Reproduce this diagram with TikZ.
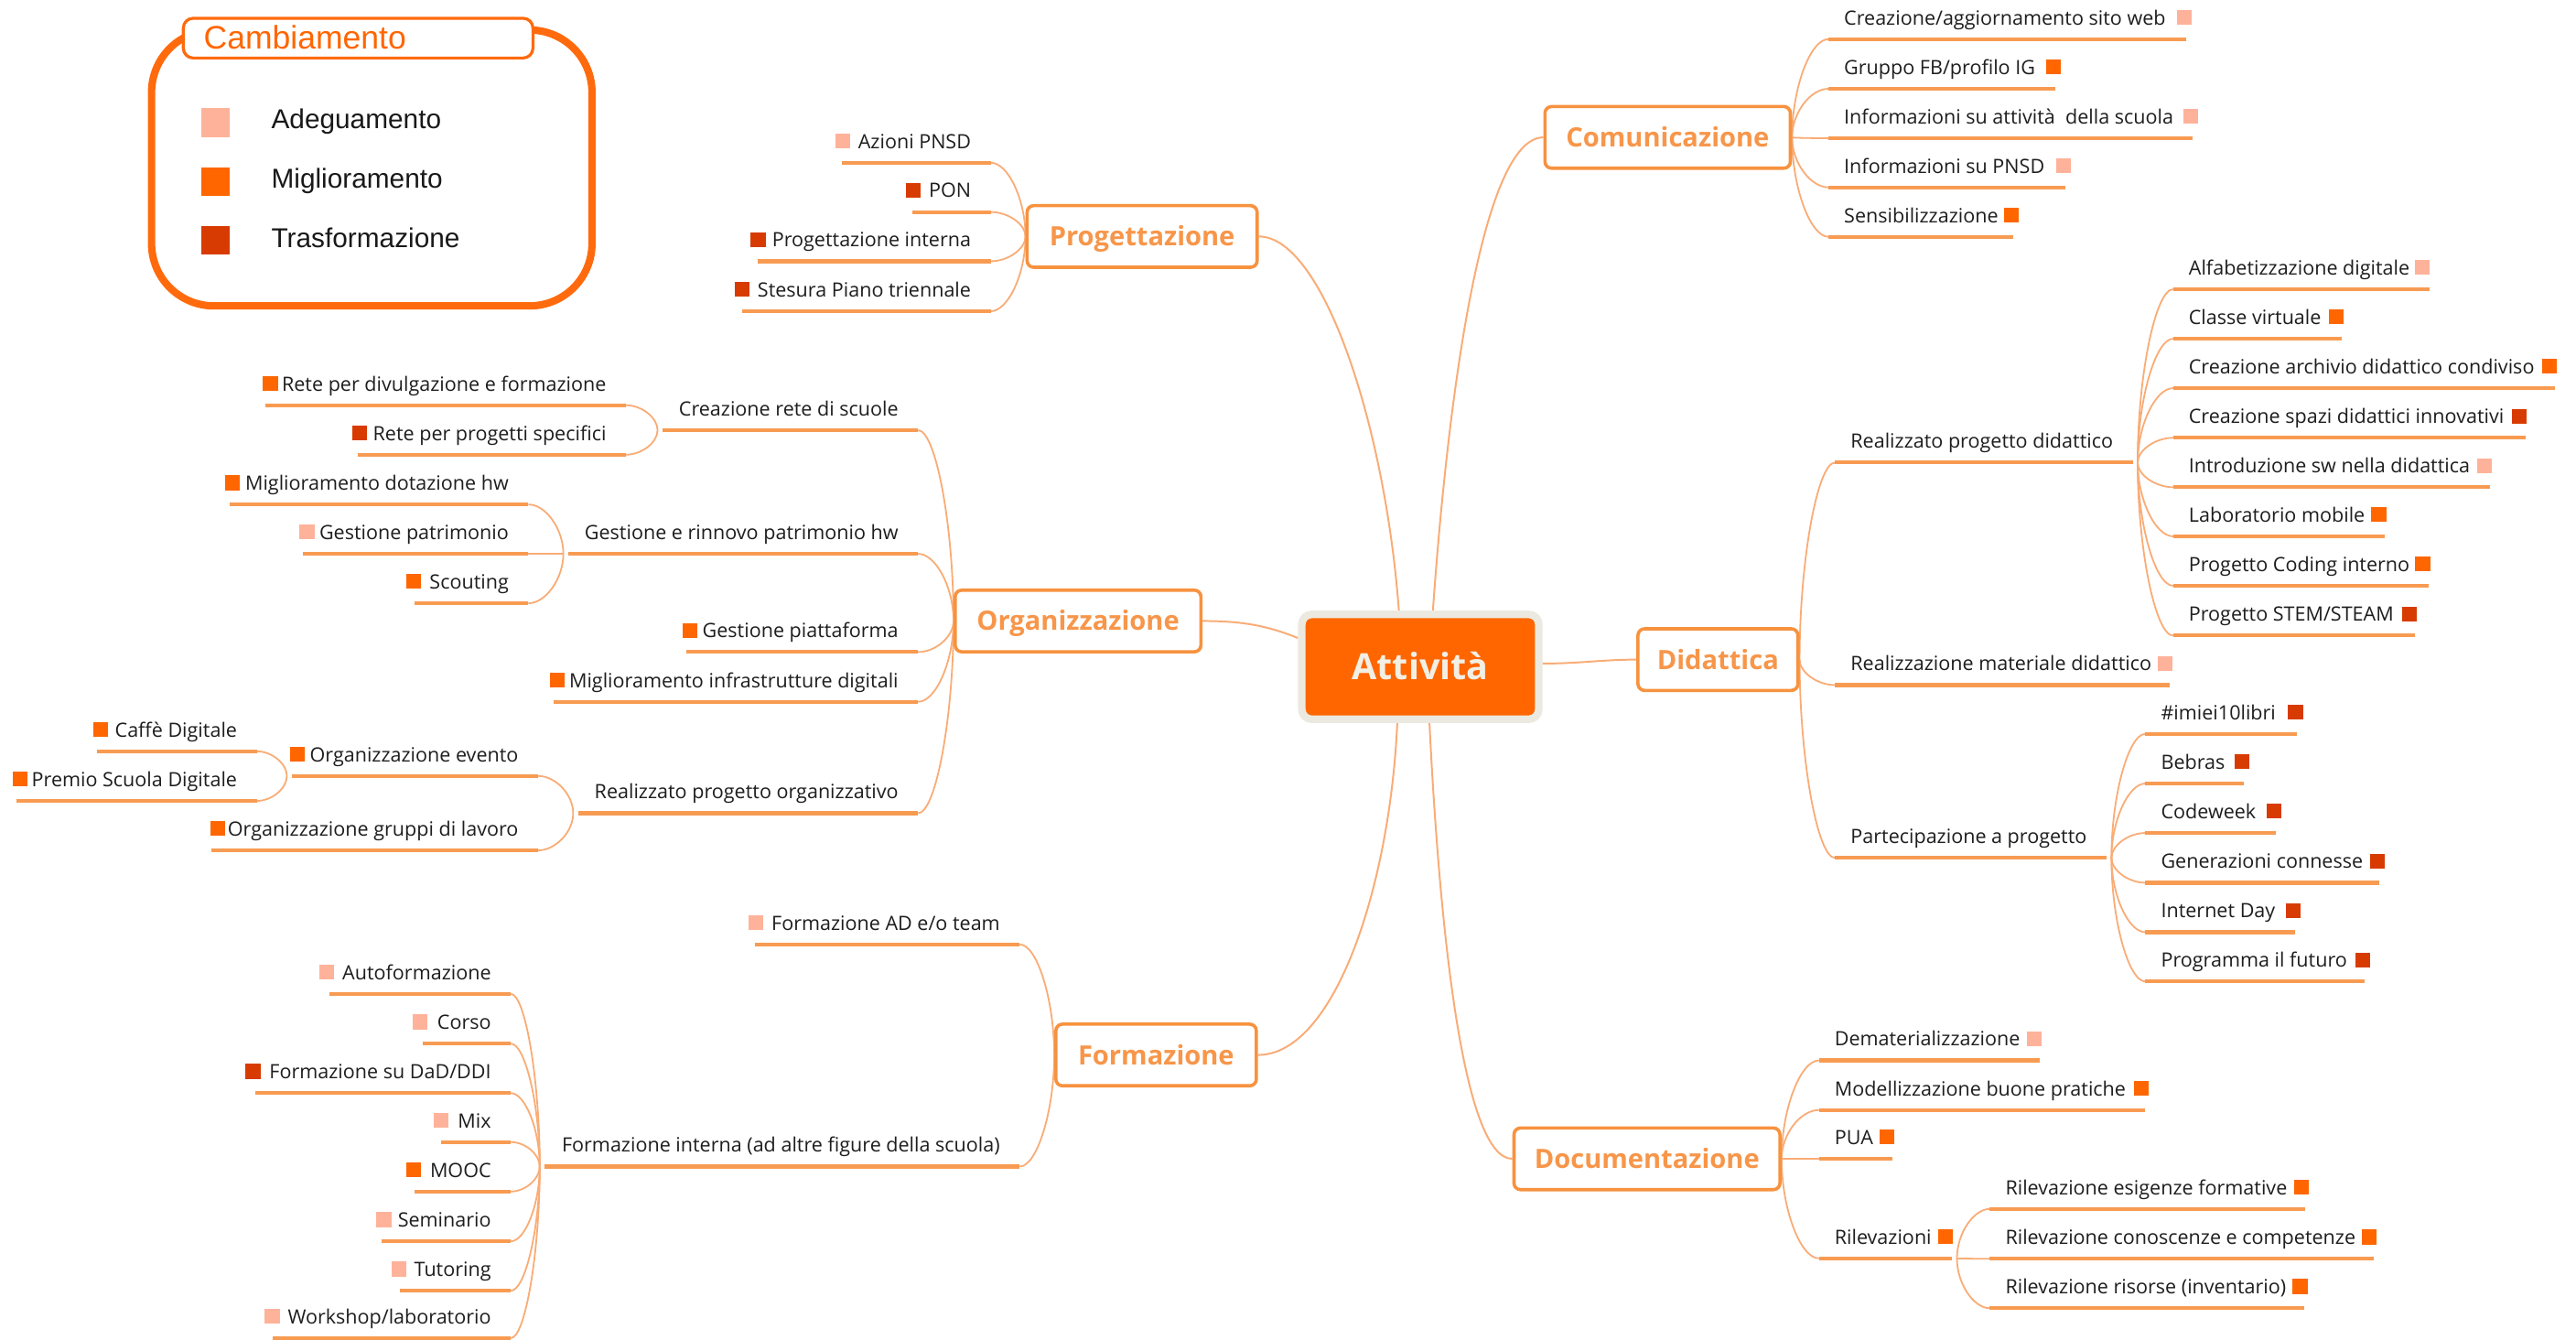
\documentclass[tikz,border=0pt]{standalone}
\usepackage{fontspec}
\setmainfont{Open Sans}
\newfontfamily\legfont{Liberation Sans}
\usetikzlibrary{calc}
\definecolor{cA}{HTML}{FFB29A}
\definecolor{cB}{HTML}{FF6600}
\definecolor{cC}{HTML}{D83B01}
\definecolor{boxc}{HTML}{F7923F}
\definecolor{boxt}{HTML}{F7964A}
\definecolor{ulc}{HTML}{F89B52}
\definecolor{connc}{HTML}{F9AC76}
\definecolor{beige}{HTML}{ECEAE0}
\definecolor{cream}{HTML}{F2EFE4}
\definecolor{legor}{HTML}{FF6A0D}
\definecolor{leaftxt}{HTML}{1E1E1E}
\pgfdeclarelayer{bg}
\pgfsetlayers{bg,main}
\newcommand\sqA{\textcolor{cA}{\rule{9pt}{9pt}}}
\newcommand\sqB{\textcolor{cB}{\rule{9pt}{9pt}}}
\newcommand\sqC{\textcolor{cC}{\rule{9pt}{9pt}}}
% left leaf: name, x of right underline end, y of underline, far-side offset, content
\newcommand\leafL[5]{%
  \node[leaf, anchor=base east] (#1) at ({#2-12},{#3-8.7}) {#5};
  \coordinate (#1-r) at (#2,#3);
  \coordinate (#1-l) at ($(#1.west |- #1-r)+(#4,0)$);
  \draw[uline] (#1-l) -- (#1-r);
}
% right leaf: name, x of left underline end, y of underline, far-side offset, content
\newcommand\leafR[5]{%
  \node[leaf, anchor=base west] (#1) at ({#2+9.5},{#3-8.7}) {#5};
  \coordinate (#1-l) at (#2,#3);
  \coordinate (#1-r) at ($(#1.east |- #1-l)+(#4,0)$);
  \draw[uline] (#1-l) -- (#1-r);
}
\newcommand\linkc[2]{\draw[conn] (#1) .. controls ($(#1)!0.5!(#1|-#2)$) and ($(#2)!0.5!(#2-|#1)$) .. (#2);}
\tikzset{
  leaf/.style={inner sep=0pt, outer sep=0pt, font=\fontsize{12}{14}\selectfont, text=leaftxt},
  uline/.style={draw=ulc, line width=2.3pt},
  conn/.style={draw=connc, line width=1pt},
  mconn/.style={draw=connc, line width=1.1pt},
  mainbox/.style={draw=boxc, line width=2pt, fill=white, rounded corners=4pt, text=boxt,
    font=\fontsize{16.2}{18}\selectfont\bfseries, text height=11.6pt, text depth=0pt,
    inner xsep=2pt, inner ysep=0pt, minimum height=37.5pt},
  rootbox/.style={draw=beige, line width=4.6pt, fill=cB, rounded corners=6pt, text=cream,
    font=\fontsize{22}{24}\selectfont\bfseries, text height=15.7pt, text depth=0pt,
    inner sep=0pt, minimum width=144.2pt, minimum height=63.8pt},
  legsq/.style={inner sep=0pt, minimum size=17.7pt},
  legtxt/.style={anchor=base west, inner sep=0pt, font=\legfont\fontsize{16.6}{19}\selectfont, text=black!90}
}
\begin{document}
\begin{tikzpicture}[x=1pt,y=-1pt]
\useasboundingbox (0,0) rectangle (1568,815);
\begin{pgfonlayer}{bg}
\fill[white] (0,0) rectangle (1568,815);
\end{pgfonlayer}

% ---------- legend ----------
\node[draw=legor, line width=4.5pt, rounded corners=38pt, minimum width=268.1pt, minimum height=167.9pt, inner sep=0pt] (legbox) at (226.3,102.2) {};
\node[draw=legor, line width=1.8pt, fill=white, rounded corners=6pt, minimum width=212.8pt, minimum height=24.2pt, inner sep=0pt] (legtitlebox) at (218,23.2) {};
\node[anchor=base west, inner sep=0pt, font=\legfont\fontsize{19.8}{22}\selectfont, text=cB] (legtitle) at (123.8,29.7) {Cambiamento};
\node[legsq, fill=cA] (legsqA) at (131.15,74.75) {};
\node[legsq, fill=cB] (legsqB) at (131.15,110.5) {};
\node[legsq, fill=cC] (legsqC) at (131.15,146.2) {};
\node[legtxt] (legA) at (165,78) {Adeguamento};
\node[legtxt] (legB) at (165,114.2) {Miglioramento};
\node[legtxt] (legC) at (165,150.4) {Trasformazione};

% ---------- root and main topics ----------
\node[rootbox] (root) at (864.5,405.8) {Attività};
\node[mainbox, minimum width=140pt] (prog) at (695.2,143.9) {Progettazione};
\node[mainbox, minimum width=149.4pt] (comu) at (1015.1,83.6) {Comunicazione};
\node[mainbox, minimum width=149.6pt] (org) at (656.2,377.9) {Organizzazione};
\node[mainbox, minimum width=97.4pt] (did) at (1045.7,401.4) {Didattica};
\node[mainbox, minimum width=122pt] (form) at (703.7,642) {Formazione};
\node[mainbox, minimum width=161.9pt] (doc) at (1002.5,705.2) {Documentazione};

% ---------- Progettazione ----------
\leafL{azioni}{603}{99}{4}{\sqA\hspace{5pt}Azioni PNSD}
\leafL{pon}{603}{129}{4}{\sqC\hspace{5pt}PON}
\leafL{proginterna}{603}{159}{4}{\sqC\hspace{4pt}Progettazione interna}
\leafL{stesura}{603}{189.4}{4.5}{\sqC\hspace{5pt}Stesura Piano triennale}

% ---------- Comunicazione ----------
\leafR{web}{1113}{23.8}{-3.5}{Creazione/aggiornamento sito web\hspace{7pt}\sqA}
\leafR{fb}{1113}{54}{-3.5}{Gruppo FB/profilo IG\hspace{6.5pt}\sqB}
\leafR{infoatt}{1113}{84.1}{-3.5}{Informazioni su attività\ \ della scuola\hspace{6pt}\sqA}
\leafR{infopnsd}{1113}{114}{-3.5}{Informazioni su PNSD\hspace{7pt}\sqA}
\leafR{sensib}{1113}{144.1}{-3.5}{Sensibilizzazione\hspace{3.5pt}\sqB}

% ---------- Didattica ----------
\leafR{realdid}{1117}{281.5}{12}{Realizzato progetto didattico}
\leafR{realmat}{1117}{416.9}{-2}{Realizzazione materiale didattico\hspace{4pt}\sqA}
\leafR{partec}{1117}{522.1}{12}{Partecipazione a progetto}

\leafR{alfab}{1322.8}{176}{0}{Alfabetizzazione digitale\hspace{3pt}\sqA}
\leafR{classe}{1322.8}{206.1}{-1}{Classe virtuale\hspace{4.5pt}\sqB}
\leafR{archivio}{1322.8}{236.2}{-1}{Creazione archivio didattico condiviso\hspace{4.5pt}\sqB}
\leafR{spazi}{1322.8}{266.4}{-1}{Creazione spazi didattici innovativi\hspace{5pt}\sqC}
\leafR{introsw}{1322.8}{296.5}{-1}{Introduzione sw nella didattica\hspace{4.3pt}\sqA}
\leafR{labmob}{1322.8}{326.4}{-1}{Laboratorio mobile\hspace{4pt}\sqB}
\leafR{coding}{1322.8}{356.5}{-1}{Progetto Coding interno\hspace{3.5pt}\sqB}
\leafR{stem}{1322.8}{386.8}{-1}{Progetto STEM/STEAM\hspace{5pt}\sqC}

\leafR{imiei}{1305.9}{446.6}{-3.5}{\#imiei10libri\hspace{7.5pt}\sqC}
\leafR{bebras}{1305.9}{476.8}{-3.5}{Bebras\hspace{6pt}\sqC}
\leafR{codeweek}{1305.9}{506.9}{-3.5}{Codeweek\hspace{6.5pt}\sqC}
\leafR{generaz}{1305.9}{537.2}{-3.5}{Generazioni connesse\hspace{4.5pt}\sqC}
\leafR{internet}{1305.9}{567.3}{-3.5}{Internet Day\hspace{6.5pt}\sqC}
\leafR{programma}{1305.9}{597.3}{-3.5}{Programma il futuro\hspace{5pt}\sqC}

% ---------- Documentazione ----------
\leafR{demat}{1107.2}{645.3}{-1}{Dematerializzazione\hspace{4pt}\sqA}
\leafR{modell}{1107.2}{675.5}{-2.5}{Modellizzazione buone pratiche\hspace{5pt}\sqB}
\leafR{pua}{1107.2}{705.2}{-1.5}{PUA\hspace{4pt}\sqB}
\leafR{rilev}{1107.2}{765.8}{-0.5}{Rilevazioni\hspace{4pt}\sqB}
\leafR{esig}{1211.2}{735.7}{-2}{Rilevazione esigenze formative\hspace{4pt}\sqB}
\leafR{conosc}{1211.2}{766}{-2}{Rilevazione conoscenze e competenze\hspace{4pt}\sqB}
\leafR{risorse}{1211.2}{796.1}{-2}{Rilevazione risorse (inventario)\hspace{4pt}\sqB}

% ---------- Organizzazione ----------
\leafL{creazrete}{558.8}{261.8}{-10}{Creazione rete di scuole}
\leafL{gestrinn}{558.8}{337}{-10}{Gestione e rinnovo patrimonio hw}
\leafL{gestpiatt}{558.8}{396.8}{2.4}{\sqB\hspace{3pt}Gestione piattaforma}
\leafL{miglinfra}{558.8}{427.1}{2.3}{\sqB\hspace{3pt}Miglioramento infrastrutture digitali}
\leafL{realorg}{558.8}{494.9}{-10}{Realizzato progetto organizzativo}

\leafL{retediv}{381}{246.6}{1.5}{\sqB\hspace{2.5pt}Rete per divulgazione e formazione}
\leafL{reteprog}{381}{276.7}{3.5}{\sqC\hspace{3.5pt}Rete per progetti specifici}

\leafL{migldot}{321.6}{307}{3}{\sqB\hspace{3.5pt}Miglioramento dotazione hw}
\leafL{gestpatr}{321.6}{337}{2}{\sqA\hspace{3pt}Gestione patrimonio}
\leafL{scouting}{321.6}{367.1}{5}{\sqB\hspace{5pt}Scouting}

\leafL{orgevento}{327.5}{472.2}{1}{\sqB\hspace{3pt}Organizzazione evento}
\leafL{orggruppi}{327.5}{517.5}{0.5}{\sqB\hspace{1.5pt}Organizzazione gruppi di lavoro}

\leafL{caffe}{156.3}{457.2}{2}{\sqB\hspace{4pt}Caffè Digitale}
\leafL{premio}{156.3}{487.4}{2}{\sqB\hspace{2.5pt}Premio Scuola Digitale}

% ---------- Formazione ----------
\leafL{formad}{620.7}{574.7}{4}{\sqA\hspace{5pt}Formazione AD e/o team}
\leafL{forminterna}{620.7}{709.9}{-10.5}{Formazione interna (ad altre figure della scuola)}

\leafL{autoform}{310.9}{604.8}{6}{\sqA\hspace{5pt}Autoformazione}
\leafL{corso}{310.9}{635.1}{6}{\sqA\hspace{6pt}Corso}
\leafL{dad}{310.9}{665.2}{6}{\sqC\hspace{5.5pt}Formazione su DaD/DDI}
\leafL{mix}{310.9}{695}{5}{\sqA\hspace{6pt}Mix}
\leafL{mooc}{310.9}{725.1}{5}{\sqB\hspace{5.5pt}MOOC}
\leafL{seminario}{310.9}{755.4}{3}{\sqA\hspace{4pt}Seminario}
\leafL{tutoring}{310.9}{785.5}{5}{\sqA\hspace{5pt}Tutoring}
\leafL{workshop}{310.9}{814.3}{5}{\sqA\hspace{5pt}Workshop/laboratorio}

% ---------- child-origin points ----------
\coordinate (realdid-o) at ($(realdid-r)+(3,0)$);
\coordinate (partec-o) at ($(partec-r)+(3,0)$);
\coordinate (rilev-o) at ($(rilev-r)+(3,0)$);
\coordinate (creazrete-o) at ($(creazrete-l)+(-3,0)$);
\coordinate (gestrinn-o) at ($(gestrinn-l)+(-3,0)$);
\coordinate (realorg-o) at ($(realorg-l)+(-3,0)$);
\coordinate (orgevento-o) at ($(orgevento-l)+(-3,0)$);
\coordinate (forminterna-o) at ($(forminterna-l)+(-3,0)$);

\begin{pgfonlayer}{bg}
% root to main topics
\draw[mconn] (prog.east) .. controls (805,143.9) and (843,258) .. ($(root.north)+(-13,0)$);
\draw[mconn] ($(root.north)+(7.7,0)$) .. controls (880,260) and (900,83.6) .. (comu.west);
\draw[mconn] (org.east) .. controls (757,377.9) and (772,381) .. ($(root.west)+(0,-17.5)$);
\draw[mconn] ($(root.east)+(0,-2)$) .. controls (962,403.8) and (975,401.4) .. (did.west);
\draw[mconn] ($(root.south)+(-14,0)$) .. controls (846,540) and (812,642) .. (form.east);
\draw[mconn] ($(root.south)+(5.6,0)$) .. controls (876,560) and (890,705.2) .. (doc.west);
% Progettazione
\linkc{prog.west}{azioni-r}
\linkc{prog.west}{pon-r}
\linkc{prog.west}{proginterna-r}
\linkc{prog.west}{stesura-r}
% Comunicazione
\linkc{comu.east}{web-l}
\linkc{comu.east}{fb-l}
\linkc{comu.east}{infoatt-l}
\linkc{comu.east}{infopnsd-l}
\linkc{comu.east}{sensib-l}
% Didattica
\linkc{did.east}{realdid-l}
\linkc{did.east}{realmat-l}
\linkc{did.east}{partec-l}
\linkc{realdid-o}{alfab-l}
\linkc{realdid-o}{classe-l}
\linkc{realdid-o}{archivio-l}
\linkc{realdid-o}{spazi-l}
\linkc{realdid-o}{introsw-l}
\linkc{realdid-o}{labmob-l}
\linkc{realdid-o}{coding-l}
\linkc{realdid-o}{stem-l}
\linkc{partec-o}{imiei-l}
\linkc{partec-o}{bebras-l}
\linkc{partec-o}{codeweek-l}
\linkc{partec-o}{generaz-l}
\linkc{partec-o}{internet-l}
\linkc{partec-o}{programma-l}
% Documentazione
\linkc{doc.east}{demat-l}
\linkc{doc.east}{modell-l}
\linkc{doc.east}{pua-l}
\linkc{doc.east}{rilev-l}
\linkc{rilev-o}{esig-l}
\linkc{rilev-o}{conosc-l}
\linkc{rilev-o}{risorse-l}
% Organizzazione
\linkc{org.west}{creazrete-r}
\linkc{org.west}{gestrinn-r}
\linkc{org.west}{gestpiatt-r}
\linkc{org.west}{miglinfra-r}
\linkc{org.west}{realorg-r}
\linkc{creazrete-o}{retediv-r}
\linkc{creazrete-o}{reteprog-r}
\linkc{gestrinn-o}{migldot-r}
\linkc{gestrinn-o}{gestpatr-r}
\linkc{gestrinn-o}{scouting-r}
\linkc{realorg-o}{orgevento-r}
\linkc{realorg-o}{orggruppi-r}
\linkc{orgevento-o}{caffe-r}
\linkc{orgevento-o}{premio-r}
% Formazione
\linkc{form.west}{formad-r}
\linkc{form.west}{forminterna-r}
\linkc{forminterna-o}{autoform-r}
\linkc{forminterna-o}{corso-r}
\linkc{forminterna-o}{dad-r}
\linkc{forminterna-o}{mix-r}
\linkc{forminterna-o}{mooc-r}
\linkc{forminterna-o}{seminario-r}
\linkc{forminterna-o}{tutoring-r}
\linkc{forminterna-o}{workshop-r}
\end{pgfonlayer}
\end{tikzpicture}
\end{document}
